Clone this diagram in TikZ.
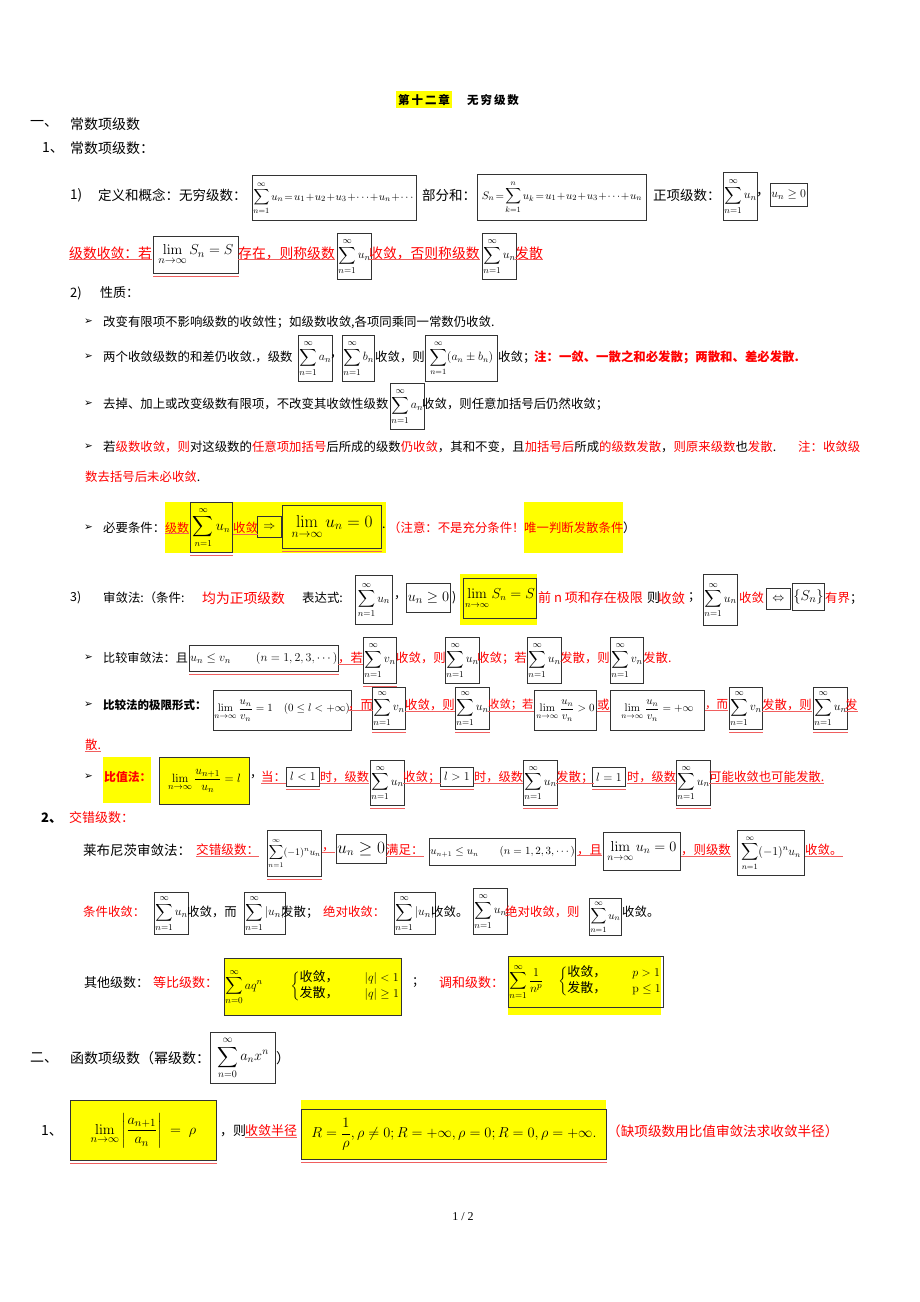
\documentclass[tikz,border=0pt]{standalone}
\usepackage{amsmath}
\usepackage[no-math]{fontspec}
\setmainfont{Noto Sans CJK SC}
\newfontfamily\symfont{DejaVu Sans}
\newfontfamily\pagefont{Liberation Serif}
\usetikzlibrary{positioning}
\definecolor{cRed}{RGB}{255,0,0}
\definecolor{cLine}{RGB}{240,95,95}
\definecolor{cYel}{RGB}{255,255,0}
\newcommand{\fsz}[1]{\fontsize{#1}{#1}\selectfont}
\newcommand{\sumU}[1]{$\displaystyle\sum_{n=1}^{\infty}#1$}

\tikzset{
  txt/.style={anchor=west, inner sep=0pt, font=\fsz{12.4}},
  rtxt/.style={txt, text=cRed},
  head/.style={txt, font=\fsz{14}},
  mbox/.style={draw=black!80, line width=0.9pt, anchor=north west, inner sep=1pt, font=\fsz{13}},
  ybox/.style={mbox, fill=cYel},
  sbox/.style={mbox, minimum width=31, minimum height=46},
  uline/.style={draw=cLine, line width=0.7pt},
  bullet/.style={anchor=west, inner sep=0pt, font=\symfont\fsz{10.5}}
}

\begin{document}
\begin{tikzpicture}[x=1pt,y=-1pt]
    \useasboundingbox[fill=white] (0,0) rectangle (920,1302);

    % title
    \fill[cYel] (396,91) rectangle (452,108);
    \node[txt, font=\fsz{11.5}\bfseries] (tA) at (398,100) {第\,十\,二\,章};
    \node[txt, font=\fsz{11.5}\bfseries] (tB) at (467,100) {无\,穷\,级\,数};

    \node[head] (s1) at (30,124) {一、};
    \node[head] (s1t) at (70,124) {常数项级数};
    \node[head] (s11) at (42,148) {1、};
    \node[head] (s11t) at (70,148) {常数项级数：};

    % 1) definitions
    \node[txt, font=\fsz{13.5}] (p1) at (70,195) {1)};
    \node[txt, font=\fsz{13.5}] (p1t) at (98,195) {定义和概念：无穷级数：};
    \node[mbox, minimum width=161, minimum height=45, font=\fsz{11}] (dA) at (252,175) {$\medmuskip=1mu\thickmuskip=2mu\displaystyle\sum_{n=1}^{\infty}u_n=u_1+u_2+u_3+\cdots+u_n+\cdots$};
    \node[txt, font=\fsz{13.5}] (dB) at (422,195) {部分和：};
    \node[mbox, minimum width=169, minimum height=46, font=\fsz{11}] (dC) at (477,174) {$\medmuskip=1mu\thickmuskip=2mu S_n=\displaystyle\sum_{k=1}^{n}u_k=u_1+u_2+u_3+\cdots+u_n$};
    \node[txt, font=\fsz{13.5}] (dD) at (653,195) {正项级数：};
    \node[mbox, minimum width=32, minimum height=48] (dE) at (723,172) {\sumU{u_n}};
    \node[txt, font=\fsz{13.5}] (dF) at (756,195) {，};
    \node[mbox, minimum width=34, minimum height=23] (dG) at (770,183) {$u_n\geq0$};

    \node[rtxt, font=\fsz{13.8}] (cA) at (69,253) {级数收敛：若};
    \node[mbox, minimum width=85, minimum height=37, font=\fsz{15}] (cB) at (153,236) {$\lim\limits_{n\to\infty}S_n=S$};
    \node[rtxt, font=\fsz{13.8}] (cC) at (238,253) {存在，则称级数};
    \node[sbox] (cD) at (337,233) {\sumU{u_n}};
    \node[rtxt, font=\fsz{13.8}] (cE) at (369,253) {收敛，否则称级数};
    \node[sbox] (cF) at (482,233) {\sumU{u_n}};
    \node[rtxt, font=\fsz{13.8}] (cG) at (515,253) {发散};

    % 2) properties
    \node[txt, font=\fsz{13}] (p2) at (70,293) {2)};
    \node[txt, font=\fsz{13}] (p2t) at (100,293) {性质：};
    \foreach \y/\n in {322/1,357/2,404/3,447/4,528/5,658/6,705/7,777/8}
        \node[bullet] (bl\n) at (84,\y) {➢};

    \node[txt] (eA) at (103,322) {改变有限项不影响级数的收敛性；如级数收敛,各项同乘同一常数仍收敛.};

    \node[txt] (fA) at (103,357) {两个收敛级数的和差仍收敛.，级数};
    \node[sbox] (fB) at (298,335) {\sumU{a_n}};
    \node[txt] (fC) at (330,357) {，};
    \node[sbox] (fD) at (342,335) {\sumU{b_n}};
    \node[txt] (fE) at (375,357) {收敛，则};
    \node[mbox, minimum width=72, minimum height=46, font=\fsz{11.5}] (fF) at (425,335) {\sumU{(a_n\pm b_n)}};
    \node[txt] (fG) at (498,357) {收敛；};
    \node[rtxt, font=\fsz{12.4}\bfseries] (fH) at (534,357) {注：一敛、一散之和必发散；两散和、差必发散.};

    \node[txt] (gA) at (103,404) {去掉、加上或改变级数有限项，不改变其收敛性级数};
    \node[sbox] (gB) at (390,383) {\sumU{a_n}};
    \node[txt] (gC) at (422,404) {收敛，则任意加括号后仍然收敛；};

    \node[txt] (hA) at (103,447) {若\textcolor{cRed}{级数收敛，则}对这级数的\textcolor{cRed}{任意项加括号}后所成的级数\textcolor{cRed}{仍收敛}，其和不变，且\textcolor{cRed}{加括号后}所成\textcolor{cRed}{的级数发散}，\textcolor{cRed}{则原来级数}也\textcolor{cRed}{发散}.};
    \node[rtxt] (hB) at (798,447) {注：收敛级};
    \node[rtxt] (hC) at (85,477) {数去括号后未必收敛\textcolor{black}{.}};

    \fill[cYel] (165,502) rectangle (386,553);
    \fill[cYel] (524,502) rectangle (623,553);
    \node[txt] (iA) at (103,528) {必要条件：};
    \node[rtxt, font=\fsz{12}] (iB) at (165,528) {级数};
    \node[mbox, minimum width=42, minimum height=50, font=\fsz{13.5}] (iC) at (190,502) {\sumU{u_n}};
    \node[rtxt] (iD) at (233,528) {收敛};
    \node[mbox, minimum width=24, minimum height=21] (iE) at (257,516) {$\Rightarrow$};
    \node[mbox, minimum width=99, minimum height=43, font=\fsz{17}, line width=1.2pt] (iF) at (282,505) {$\lim\limits_{n\to\infty}u_n=0$};
    \node[txt] (iG) at (382,528) {.};
    \node[rtxt] (iH) at (388,528) {（注意：不是充分条件！};
    \node[rtxt] (iI) at (524,528) {唯一判断发散条件};
    \node[txt] (iJ) at (623,528) {）};

    % 3) tests
    \node[txt] (jA) at (70,598) {3)};
    \node[txt] (jB) at (103,598) {审敛法:（条件:};
    \node[rtxt, font=\fsz{13.8}] (jC) at (202,598) {均为正项级数};
    \node[txt] (jD) at (302,598) {表达式:};
    \node[mbox, minimum width=37, minimum height=49] (jE) at (355,575) {\sumU{u_n}};
    \node[txt] (jF) at (394,598) {，};
    \node[mbox, minimum width=44, minimum height=29, font=\fsz{15}] (jG) at (406,583) {$u_n\geq0$};
    \node[txt] (jH) at (452,598) {)};
    \fill[cYel] (460,574) rectangle (537,625);
    \node[mbox, minimum width=73, minimum height=40, font=\fsz{13.5}] (jI) at (463,578) {$\lim\limits_{n\to\infty}S_n=S$};
    \node[rtxt, font=\fsz{13}] (jJ) at (538,598) {前 n 项和存在极限};
    \node[txt, font=\fsz{13}] (jK) at (647,598) {则};
    \node[rtxt, font=\fsz{13.5}] (jL) at (658,598) {收敛};
    \node[txt] (jM) at (688,598) {；};
    \node[mbox, minimum width=32, minimum height=51] (jN) at (703,574) {\sumU{u_n}};
    \node[rtxt] (jO) at (739,598) {收敛};
    \node[mbox, minimum width=24, minimum height=21] (jP) at (766,588) {$\Leftrightarrow$};
    \node[mbox, minimum width=31, minimum height=27, font=\fsz{15}] (jQ) at (792,583) {$\{S_n\}$};
    \node[rtxt] (jR) at (825,598) {有界\textcolor{black}{；}};

    \node[txt, font=\fsz{12.1}] (kA) at (103,658) {比较审敛法：且};
    \node[mbox, minimum width=148, minimum height=26, font=\fsz{12.5}] (kB) at (189,645) {$u_n\leq v_n\qquad(n=1,2,3,\cdots)$};
    \node[rtxt] (kC) at (338,658) {，若};
    \node[sbox] (kD) at (363,637) {\sumU{v_n}};
    \node[rtxt] (kE) at (396,658) {收敛，则};
    \node[sbox] (kF) at (445,637) {\sumU{u_n}};
    \node[rtxt] (kG) at (477,658) {收敛；若};
    \node[sbox] (kH) at (527,637) {\sumU{u_n}};
    \node[rtxt] (kI) at (560,658) {发散，则};
    \node[sbox] (kJ) at (610,637) {\sumU{v_n}};
    \node[rtxt] (kK) at (643,658) {发散.};

    \node[txt, font=\fsz{11.5}\bfseries] (lA) at (103,705) {比较法的极限形式：};
    \node[mbox, minimum width=134, minimum height=40, font=\fsz{11}] (lB) at (213,690) {$\lim\limits_{n\to\infty}\dfrac{u_n}{v_n}=1\quad(0\leq l<+\infty)$};
    \node[rtxt] (lC) at (348,705) {，而};
    \node[mbox, minimum width=32, minimum height=42] (lD) at (372,687) {\sumU{v_n}};
    \node[rtxt] (lE) at (405,705) {收敛，则};
    \node[mbox, minimum width=32, minimum height=42] (lF) at (455,687) {\sumU{u_n}};
    \node[rtxt, font=\fsz{11.3}] (lG) at (488,705) {收敛；若};
    \node[mbox, minimum width=62, minimum height=40, font=\fsz{11}] (lH) at (534,690) {$\lim\limits_{n\to\infty}\dfrac{u_n}{v_n}>0$};
    \node[rtxt] (lI) at (597,705) {或};
    \node[mbox, minimum width=94, minimum height=40, font=\fsz{11}] (lJ) at (610,690) {$\lim\limits_{n\to\infty}\dfrac{u_n}{v_n}=+\infty$};
    \node[rtxt, font=\fsz{11.5}] (lK) at (705,705) {，而};
    \node[mbox, minimum width=32, minimum height=42] (lL) at (729,687) {\sumU{v_n}};
    \node[rtxt] (lM) at (762,705) {发散，则};
    \node[mbox, minimum width=32, minimum height=42] (lN) at (813,687) {\sumU{u_n}};
    \node[rtxt] (lO) at (845,705) {发};
    \node[rtxt] (lP) at (85,745) {散.};

    \fill[cYel] (103,757) rectangle (151,803);
    \node[rtxt, font=\fsz{11.8}\bfseries] (mA) at (104,777) {比值法：};
    \node[ybox, minimum width=90, minimum height=47] (mB) at (159,757) {$\lim\limits_{n\to\infty}\dfrac{u_{n+1}}{u_n}=l$};
    \node[txt] (mC) at (250,777) {，};
    \node[rtxt] (mD) at (261,777) {当：};
    \node[mbox, minimum width=33, minimum height=19] (mE) at (286,767) {$l<1$};
    \node[rtxt, font=\fsz{12.2}] (mF) at (320,777) {时，级数};
    \node[mbox, minimum width=32, minimum height=45] (mG) at (370,760) {\sumU{u_n}};
    \node[rtxt] (mH) at (403,777) {收敛；};
    \node[mbox, minimum width=33, minimum height=19] (mI) at (440,767) {$l>1$};
    \node[rtxt, font=\fsz{12.2}] (mJ) at (474,777) {时，级数};
    \node[mbox, minimum width=32, minimum height=45] (mK) at (523,760) {\sumU{u_n}};
    \node[rtxt] (mL) at (556,777) {发散；};
    \node[mbox, minimum width=33, minimum height=19] (mM) at (592,767) {$l=1$};
    \node[rtxt, font=\fsz{12.2}] (mN) at (627,777) {时，级数};
    \node[mbox, minimum width=32, minimum height=45] (mO) at (676,760) {\sumU{u_n}};
    \node[rtxt] (mP) at (709,777) {可能收敛也可能发散.};

    % alternating series
    \node[head, font=\fsz{13}\bfseries] (s12) at (41,818) {2、};
    \node[rtxt, font=\fsz{13}] (s12t) at (69,818) {交错级数：};

    \node[txt, font=\fsz{13.5}] (nA) at (83,850) {莱布尼茨审敛法：};
    \node[rtxt, font=\fsz{12.6}] (nB) at (196,850) {交错级数：};
    \node[mbox, minimum width=53, minimum height=46, font=\fsz{10}] (nC) at (267,830) {\sumU{(-1)^n u_n}};
    \node[rtxt] (nD) at (322,850) {，};
    \node[mbox, minimum width=49, minimum height=29, font=\fsz{16}] (nE) at (336,834) {$u_n\geq0$};
    \node[rtxt] (nF) at (386,850) {满足：};
    \node[mbox, minimum width=146, minimum height=27, font=\fsz{10.5}] (nG) at (429,838) {$u_{n+1}\leq u_n\qquad(n=1,2,3,\cdots)$};
    \node[rtxt] (nH) at (577,850) {，且};
    \node[mbox, minimum width=77, minimum height=38, font=\fsz{14.5}] (nI) at (603,832) {$\lim\limits_{n\to\infty}u_n=0$};
    \node[rtxt] (nJ) at (681,850) {，则级数};
    \node[mbox, minimum width=67, minimum height=45, font=\fsz{12}] (nK) at (737,830) {\sumU{(-1)^n u_n}};
    \node[rtxt] (nL) at (805,850) {收敛。};

    \node[rtxt] (oA) at (83,912) {条件收敛：};
    \node[mbox, minimum width=32, minimum height=42] (oB) at (154,892) {\sumU{u_n}};
    \node[txt] (oC) at (187,912) {收敛，而};
    \node[mbox, minimum width=36, minimum height=42] (oD) at (244,892) {\sumU{|u_n|}};
    \node[txt] (oE) at (281,912) {发散；};
    \node[rtxt] (oF) at (323,912) {绝对收敛：};
    \node[mbox, minimum width=36, minimum height=42] (oG) at (394,892) {\sumU{|u_n|}};
    \node[txt] (oH) at (431,912) {收敛。};
    \node[sbox] (oI) at (473,888) {\sumU{u_n}};
    \node[rtxt] (oJ) at (505,912) {绝对收敛，则};
    \node[mbox, minimum width=32, minimum height=37, font=\fsz{11}] (oK) at (589,898) {\sumU{u_n}};
    \node[txt] (oL) at (622,912) {收敛。};

    \node[txt, font=\fsz{13}] (qA) at (84,983) {其他级数：};
    \node[rtxt, font=\fsz{13}] (qB) at (153,983) {等比级数：};
    \node[ybox, minimum width=165, minimum height=57] (qC) at (224,958) {$\displaystyle\sum_{n=0}^{\infty}aq^n\qquad\begin{cases}\text{收敛，}\quad&|q|<1\\\text{发散，}&|q|\geq1\end{cases}$};
    \node[txt] (qD) at (412,983) {；};
    \node[rtxt, font=\fsz{13}] (qE) at (439,983) {调和级数：};
    \fill[cYel] (508,956) rectangle (661,1015);
    \node[mbox, minimum width=153, minimum height=51] (qF) at (508,956) {$\displaystyle\sum_{n=1}^{\infty}\frac{1}{n^p}\quad\begin{cases}\text{收敛，}\quad&p>1\\\text{发散，}&\mathrm{p}\leq1\end{cases}$};

    % power series
    \node[head] (s2) at (30,1058) {二、};
    \node[head] (s2t) at (70,1058) {函数项级数（幂级数：};
    \node[mbox, minimum width=65, minimum height=51, font=\fsz{14}] (rA) at (210,1032) {$\displaystyle\sum_{n=0}^{\infty}a_nx^n$};
    \node[head] (rB) at (276,1058) {）};

    \node[head] (s21) at (41,1131) {1、};
    \node[ybox, minimum width=146, minimum height=60, font=\fsz{15}] (uA) at (70,1100) {$\lim\limits_{n\to\infty}\left|\dfrac{a_{n+1}}{a_n}\right|\;=\;\rho$};
    \node[txt, font=\fsz{13}] (uB) at (220,1131) {，则};
    \node[rtxt, font=\fsz{13}] (uC) at (245,1131) {收敛半径};
    \fill[cYel] (301,1100) rectangle (606,1160);
    \node[mbox, minimum width=305, minimum height=50, font=\fsz{15}] (uD) at (301,1109) {$R=\dfrac{1}{\rho},\rho\neq0;R=+\infty,\rho=0;R=0,\rho=+\infty.$};
    \node[rtxt, font=\fsz{13.6}] (uE) at (607,1131) {（缺项级数用比值审敛法求收敛半径）};

    \node[inner sep=0pt, font=\pagefont\fsz{12}] (pg) at (463,1217) {1 / 2};

    % red underlines
    \foreach \n in {cA,cC,cE,cG,iB,iD,kC,lC,lE,lG,lI,lK,lM,lO,lP,mD,mF,mH,mJ,mL,mN,mP,nB,nD,nF,nH,nJ,nL,uC}
        \draw[uline] (\n.south west) -- (\n.south east);
    \foreach \n in {cB,iC,iF,kB,kD,lD,lF,lL,lN,mE,mG,mI,mK,mM,mO,nC,uA,uD}
        \draw[uline] ([yshift=-2pt]\n.south west) -- ([yshift=-2pt]\n.south east);
\end{tikzpicture}
\end{document}
